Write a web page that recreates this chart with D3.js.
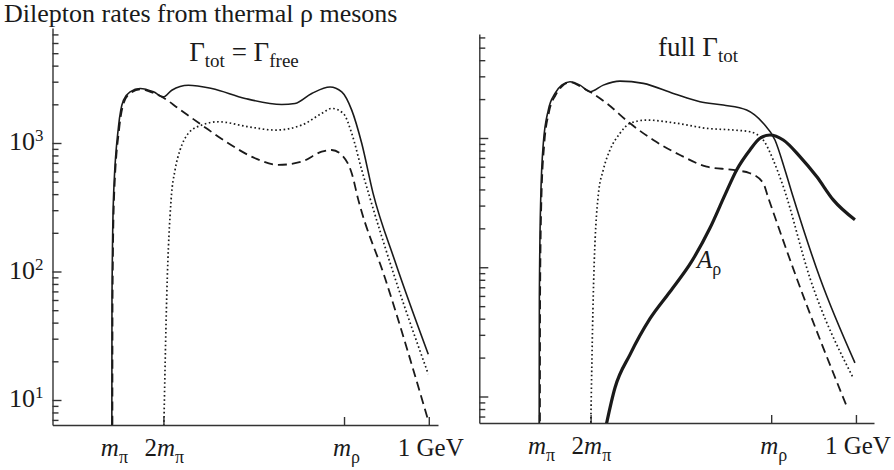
<!DOCTYPE html>
<html>
<head>
<meta charset="utf-8">
<script src="https://cdn.jsdelivr.net/npm/d3@7"></script>
<style>
  body { margin: 0; background: #fff; }
  svg text { font-family: "Liberation Serif", "Times New Roman", serif; fill: #1a1a1a; }
  .axis path, .axis line { stroke: #333; stroke-width: 1.4; }
</style>
</head>
<body>
<svg width="894" height="470"></svg>
<script>
// masses in GeV, rates in arbitrary units
var mPi = 0.14, mRho = 0.77;
var massTicks = [mPi, 2 * mPi, mRho, 1.0];
var massLabels = [["m", "\u03c0", ""], ["m", "\u03c0", "2"], ["m", "\u03c1", ""], ["1 GeV"]];
var decadeLabels = [1, 2, 3];

// left panel: Gamma_tot = Gamma_free
var freeTotal = [[0.1400, 5], [0.1404, 60], [0.1443, 361], [0.158, 1337], [0.1714, 2154], [0.1896, 2500],
  [0.2167, 2655], [0.2528, 2500], [0.2799, 2285], [0.3027, 2576], [0.3477, 2816], [0.4112, 2655],
  [0.5015, 2222], [0.601, 1995], [0.6371, 2030], [0.6824, 2428], [0.732, 2730], [0.7638, 2500],
  [0.7909, 1802], [0.818, 995], [0.8487, 407], [0.9083, 120], [0.9986, 22.7]];
var freeDashed = [[0.1415, 5], [0.1419, 60], [0.1458, 361], [0.160, 1300], [0.173, 2080], [0.1905, 2450],
  [0.2167, 2620], [0.2528, 2450], [0.2799, 2250], [0.3206, 1858], [0.384, 1379], [0.4562, 995],
  [0.5286, 761], [0.5918, 675], [0.6553, 716], [0.7095, 856], [0.7366, 882], [0.7638, 807],
  [0.7909, 582], [0.8088, 361], [0.8812, 89], [0.9986, 6.9]];
var freeDotted = [[0.2805, 5], [0.2891, 66], [0.3008, 361], [0.3116, 618], [0.3252, 882], [0.3477, 1189],
  [0.384, 1379], [0.4291, 1463], [0.5105, 1337], [0.5829, 1261], [0.6553, 1379], [0.7095, 1699],
  [0.7366, 1858], [0.7681, 1699], [0.7909, 1189], [0.818, 618], [0.8378, 395], [0.9083, 89], [0.9986, 15.9]];

// right panel: full Gamma_tot
var fullTotal = [[0.1405, 5], [0.1410, 60], [0.1446, 332], [0.1517, 910], [0.1652, 1645], [0.1834, 2213],
  [0.2016, 2565], [0.2241, 2722], [0.2512, 2565], [0.2783, 2278], [0.3144, 2565], [0.3597, 2755],
  [0.423, 2645], [0.5043, 2213], [0.5768, 1906], [0.64, 1798], [0.7035, 1645], [0.7485, 1299],
  [0.7803, 965], [0.8074, 566], [0.8299, 348], [0.9024, 82.5], [0.9973, 18.2]];
var fullDashed = [[0.1425, 5], [0.1430, 60], [0.1465, 332], [0.154, 880], [0.167, 1580], [0.185, 2150],
  [0.2016, 2500], [0.2241, 2700], [0.2512, 2520], [0.2783, 2278], [0.3237, 1853], [0.3869, 1299],
  [0.4501, 965], [0.5225, 739], [0.595, 600], [0.6671, 566], [0.7124, 534], [0.7485, 447],
  [0.7613, 350], [0.8391, 82.5], [0.9729, 8.67]];
var fullDotted = [[0.2800, 5], [0.2873, 61], [0.3009, 363], [0.3144, 566], [0.3326, 808], [0.3597, 1087],
  [0.3869, 1299], [0.4322, 1377], [0.5136, 1300], [0.595, 1188], [0.6671, 1153], [0.7124, 1118],
  [0.7485, 965], [0.7756, 676], [0.8028, 421], [0.8752, 82.5], [0.9927, 13.9]];
var spectralA = [[0.3165, 5], [0.3462, 11.7], [0.3869, 21.1], [0.4411, 40], [0.4954, 64.7], [0.5543, 111],
  [0.6039, 201], [0.6446, 363], [0.6763, 566], [0.7124, 808], [0.7396, 995], [0.7667, 1055],
  [0.8028, 965], [0.848, 718], [0.8934, 503], [0.9384, 332], [0.9973, 233]];

var svg = d3.select("svg");

svg.append("text").attr("x", 4).attr("y", 22).style("font-size", "26px")
  .text("Dilepton rates from thermal \u03c1 mesons");

var styles = {
  solid: { w: 1.6, dash: null },
  dashed: { w: 1.8, dash: "9,5" },
  dotted: { w: 1.7, dash: "1.6,2.6" },
  thick: { w: 3.2, dash: null }
};

function panel(cfg) {
  var x = d3.scaleLinear().domain(cfg.mass).range([cfg.left, cfg.right]);
  // place decades first, then cut the domain to the drawn box
  var y = d3.scaleLog().domain([10, 1000]).range([cfg.y10, cfg.y1000]);
  y.domain([y.invert(cfg.bottom), y.invert(cfg.top)]).range([cfg.bottom, cfg.top]);

  var g = svg.append("g");
  var clipId = "clip" + cfg.id;
  svg.append("clipPath").attr("id", clipId).append("rect")
    .attr("x", cfg.left).attr("y", cfg.top - 20)
    .attr("width", cfg.right - cfg.left + 20).attr("height", cfg.bottom - cfg.top + 20);

  // y axis: ticks point into the plot
  var yAxis = g.append("g").attr("class", "axis")
    .attr("transform", "translate(" + cfg.left + ",0)")
    .call(d3.axisRight(y).tickSizeOuter(0).tickFormat(""));
  yAxis.selectAll(".tick line").attr("x2", function(d) {
    return Math.abs(Math.log10(d) - Math.round(Math.log10(d))) < 1e-9 ? 9 : 6;
  });

  // x axis: ticks point up
  g.append("g").attr("class", "axis")
    .attr("transform", "translate(0," + cfg.bottom + ")")
    .call(d3.axisTop(x).tickValues(massTicks).tickSize(8).tickSizeOuter(0).tickFormat(""));

  if (cfg.decades) {
    decadeLabels.forEach(function(p) {
      var t = g.append("text").attr("x", cfg.left - 9).attr("y", y(Math.pow(10, p)) + 7)
        .attr("text-anchor", "end").style("font-size", "26px");
      t.append("tspan").text("10");
      t.append("tspan").attr("dy", -9).style("font-size", "17px").text(p);
    });
  }

  // x labels
  massTicks.forEach(function(m, i) {
    var lab = massLabels[i];
    var t = g.append("text").attr("y", cfg.bottom + 31).style("font-size", "25px");
    if (lab.length === 1) {
      t.attr("x", x(m) + 2).attr("text-anchor", "middle").text(lab[0]);
    } else {
      var pre = lab[2];
      // centre "m" (or "2m") on the tick, subscript hangs right
      var off = pre ? -19 : -11;
      t.attr("x", x(m) + off);
      if (pre) t.append("tspan").text(pre);
      t.append("tspan").style("font-style", "italic").text(lab[0]);
      t.append("tspan").attr("dy", 7).style("font-size", "18px").text(lab[1]);
    }
  });

  var line = d3.line()
    .x(function(d) { return x(d[0]); })
    .y(function(d) { return y(d[1]); })
    .curve(d3.curveMonotoneX);

  var curves = g.append("g").attr("clip-path", "url(#" + clipId + ")");
  cfg.series.forEach(function(s) {
    var st = styles[s.style];
    curves.append("path").datum(s.data)
      .attr("d", line)
      .attr("fill", "none")
      .attr("stroke", "#1a1a1a")
      .attr("stroke-width", st.w)
      .attr("stroke-dasharray", st.dash)
      .attr("stroke-linejoin", "round");
  });

  return { x: x, y: y, g: g };
}

panel({
  id: "L", mass: [-0.021, 1.025], left: 52.5, right: 438, top: 28, bottom: 425, y10: 400, y1000: 143, decades: true,
  series: [
    { data: freeDotted, style: "dotted" },
    { data: freeDashed, style: "dashed" },
    { data: freeTotal, style: "solid" }
  ]
});

panel({
  id: "R", mass: [-0.022, 1.049], left: 479.3, right: 874, top: 34, bottom: 423, y10: 396.5, y1000: 138, decades: false,
  series: [
    { data: fullDotted, style: "dotted" },
    { data: fullDashed, style: "dashed" },
    { data: fullTotal, style: "solid" },
    { data: spectralA, style: "thick" }
  ]
});

// panel titles
var t1 = svg.append("text").attr("x", 244).attr("y", 61).attr("text-anchor", "middle").style("font-size", "27px");
t1.append("tspan").text("\u0393");
t1.append("tspan").attr("dy", 6).style("font-size", "19px").text("tot");
t1.append("tspan").attr("dy", -6).text(" = \u0393");
t1.append("tspan").attr("dy", 6).style("font-size", "19px").text("free");

var t2 = svg.append("text").attr("x", 698).attr("y", 56).attr("text-anchor", "middle").style("font-size", "27px");
t2.append("tspan").text("full \u0393");
t2.append("tspan").attr("dy", 6).style("font-size", "19px").text("tot");

var t3 = svg.append("text").attr("x", 697).attr("y", 268).style("font-size", "25px");
t3.append("tspan").style("font-style", "italic").text("A");
t3.append("tspan").attr("dy", 7).style("font-size", "18px").text("\u03c1");
</script>
</body>
</html>
